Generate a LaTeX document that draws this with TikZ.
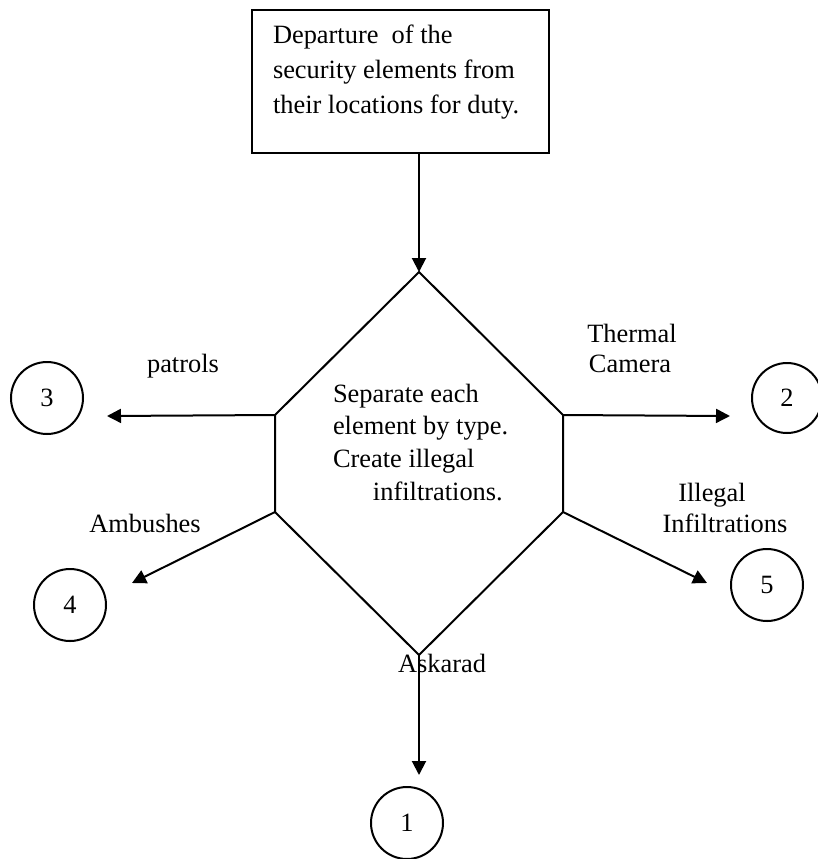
\documentclass[tikz,border=0pt]{standalone}
\usepackage{fontspec}
\setmainfont{Liberation Serif}
\usetikzlibrary{arrows.meta}
\begin{document}
\begin{tikzpicture}[x=0.5pt,y=-0.5pt,
  line width=1pt,
  every node/.style={font=\fontsize{13.2}{17.5}\selectfont, inner sep=0pt},
  arr/.style={-{Triangle[length=7pt,width=7pt]}},
  numc/.style={draw, circle, minimum size=36pt},
  lbl/.style={anchor=base},
  boxnode/.style={draw, minimum width=148.5pt, minimum height=71.5pt, anchor=north west}]
\useasboundingbox (0,0) rectangle (818,859);
% top box
\node[boxnode] (box) at (251,9) {};
\node[anchor=base west, align=left] (boxtext) at (272,113)
  {Departure\ \ of the\\security elements from\\their locations for duty.};
% hexagon
\coordinate (hT) at (419,272);
\coordinate (hUL) at (275,415);
\coordinate (hLL) at (275,512);
\coordinate (hB) at (419,655);
\coordinate (hLR) at (563,512);
\coordinate (hUR) at (563,415);
\draw (hT) -- (hUL) -- (hLL) -- (hB) -- (hLR) -- (hUR) -- cycle;
\node[anchor=base west, align=left, font=\fontsize{13.2}{16.3}\selectfont] (hextext) at (332,500)
  {Separate each\\element by type.\\Create illegal\\\hspace*{20pt}infiltrations.};
% box to hexagon
\coordinate (boxout) at (419,152);
\draw[arr] (boxout) -- (hT);
% circles
\node[numc] (c3) at (47,398) {3};
\node[numc] (c4) at (70,605) {4};
\node[numc, minimum size=35pt] (c2) at (787,398) {2};
\node[numc] (c5) at (767,585) {5};
\node[numc] (c1) at (407,823) {1};
% arrow ends
\coordinate (e3) at (107,416);
\coordinate (e4) at (132,583);
\coordinate (e2) at (730,416);
\coordinate (e5) at (707,583);
\coordinate (e1) at (419,775);
\draw[arr] (hUL) -- (e3);
\draw[arr] (hLL) -- (e4);
\draw[arr] (hUR) -- (e2);
\draw[arr] (hLR) -- (e5);
\draw[arr] (hB) -- (e1);
% labels
\node[lbl] (lp) at (183,372) {patrols};
\node[lbl] (la) at (145,532) {Ambushes};
\node[lbl] (lt1) at (632,342) {Thermal};
\node[lbl] (lt2) at (630,372) {Camera};
\node[lbl] (li1) at (712,501) {Illegal};
\node[lbl] (li2) at (725,532) {Infiltrations};
\node[lbl] (lk) at (442,672) {Askarad};
\end{tikzpicture}
\end{document}
